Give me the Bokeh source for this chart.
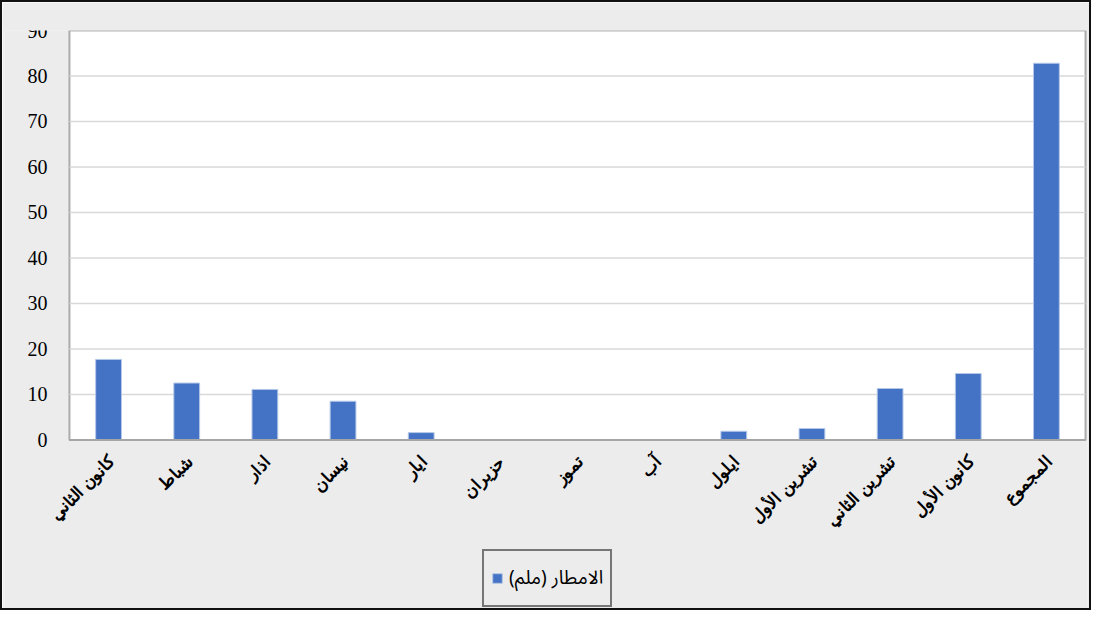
import math
from bokeh.plotting import figure
from bokeh.models import ColumnDataSource, Range1d, Legend, LegendItem, BoxAnnotation
from bokeh.embed import file_html
from bokeh.resources import INLINE

# ---- data ----
months = ["كانون الثاني", "شباط", "اذار", "نيسان", "ايار", "حزيران", "تموز",
          "آب", "ايلول", "تشرين الأول", "تشرين الثاني", "كانون الأول", "المجموع"]
rain_mm = [17.7, 12.5, 11.1, 8.5, 1.6, 0, 0, 0, 1.9, 2.5, 11.3, 14.6, 82.8]
series_name = "الامطار (ملم)"
y_ticks = [0, 10, 20, 30, 40, 50, 60, 70, 80, 90]
y_labels = [str(t) for t in y_ticks]

n = len(months)
pos = [i + 0.5 for i in range(n)]          # category centres on the x scale
src = ColumnDataSource(dict(x=pos, month=months, rain=rain_mm))
inner = y_ticks[1:-1]
grid_src = ColumnDataSource(dict(x0=[0] * len(inner), x1=[n] * len(inner), y=inner))
base_src = ColumnDataSource(dict(x0=[0], x1=[n], y=[0]))
ylab_src = ColumnDataSource(dict(x=[0] * len(y_ticks), y=y_ticks, t=y_labels))

BG = "#ececec"
BLUE = "#4472C4"

# ---- layout (pixels) ----
W, H = 1091, 610
LEFT, RIGHT, TOP, BOT = 2, 6, 28, 4
frame_left = 2 + LEFT
frame_right = 2 + W - RIGHT
box_left, box_right = 69, 1085           # plot box in the reference
cw = (box_right - box_left) / n
x_start = -(box_left - frame_left) / cw
x_end = n + (frame_right - box_right) / cw
frame_px = H - TOP - BOT - 2
px_per_unit = 408 / 90.0
y_min = 90 - frame_px / px_per_unit

p = figure(width=W, height=H, x_range=Range1d(x_start, x_end),
           y_range=Range1d(y_min, 90), output_backend="svg", toolbar_location=None,
           x_axis_location=None, y_axis_location=None,
           min_border_left=LEFT, min_border_right=RIGHT, min_border_top=TOP,
           min_border_bottom=BOT)
p.styles = {"border": "2px solid #111"}
p.border_fill_color = BG
p.background_fill_color = BG
p.outline_line_color = None
p.grid.visible = False

# white plot area with black frame
p.add_layout(BoxAnnotation(left=0, right=n, bottom=0, top=90, fill_color="white",
                           fill_alpha=1, line_color="black", line_width=2,
                           level="image"))

# horizontal gridlines
p.segment(x0="x0", x1="x1", y0="y", y1="y", source=grid_src,
          line_color="#d9d9d9", line_width=1.5, level="underlay")

bars = p.vbar(x="x", top="rain", width=0.33, source=src,
              fill_color=BLUE, line_color="#b4c7e7", line_width=1)

# category axis line at 0 (gray)
p.segment(x0="x0", x1="x1", y0="y", y1="y", source=base_src,
          line_color="#a6a6a6", line_width=2)

# y tick labels
p.text(x="x", y="y", text="t", source=ylab_src, x_offset=-22,
       text_align="right", text_baseline="middle",
       text_font="Lato", text_font_size="20px", text_color="black")

# month names, rotated 45 degrees, ending under each bar
p.text(x="x", y=0, text="month", source=src, angle=math.pi / 4,
       text_align="right", text_baseline="middle", x_offset=3, y_offset=19,
       text_font="Noto Sans Arabic, DejaVu Sans", text_font_style="bold",
       text_font_size="17px", text_color="black")

legend = Legend(items=[LegendItem(label=series_name + "\u200f", renderers=[bars])],
                location=(482 - frame_left, 1), orientation="horizontal",
                border_line_color="black", border_line_width=2,
                background_fill_alpha=0, padding=7, margin=0,
                glyph_width=12, glyph_height=12, label_standoff=6,
                label_text_font="Noto Sans Arabic, DejaVu Sans",
                label_text_font_size="19px", label_text_color="black")
p.add_layout(legend, "center")

open("out.html", "w").write(file_html(p, INLINE))
